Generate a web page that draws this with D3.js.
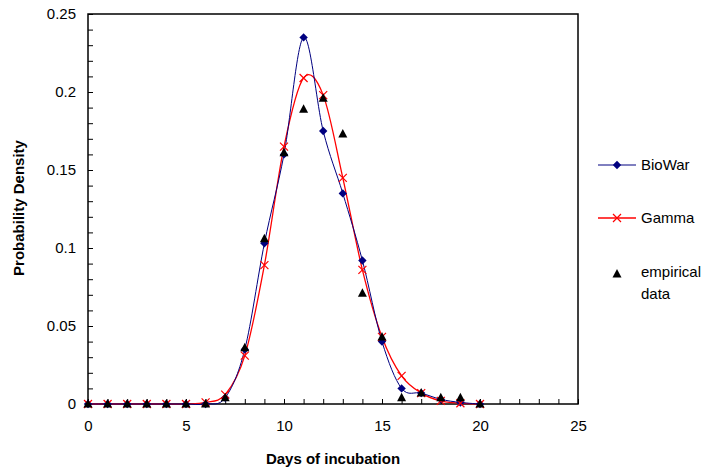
<!DOCTYPE html>
<html><head><meta charset="utf-8">
<script src="https://cdn.jsdelivr.net/npm/d3@7"></script>
<style>body{margin:0;background:#fff}svg{display:block}text{font-family:"Liberation Sans",Arial,sans-serif}</style>
</head><body><svg id="c" width="709" height="472"></svg>
<script>
const days = [0,1,2,3,4,5,6,7,8,9,10,11,12,13,14,15,16,17,18,19,20];
const biowar = [0,0,0,0,0,0,0,0.004,0.035,0.103,0.160,0.235,0.175,0.135,0.092,0.040,0.010,0.007,0.003,0.001,0];
const gamma = [0,0,0,0,0,0,0.001,0.006,0.031,0.089,0.165,0.209,0.198,0.145,0.086,0.043,0.018,0.007,0.002,0.0005,0];
const empirical = [0,0,0,0,0,0,0,0.004,0.036,0.106,0.161,0.189,0.196,0.173,0.071,0.043,0.004,0.007,0.004,0.004,0];
const xTicks = [0,5,10,15,20,25];
const yTicks = [0,0.05,0.1,0.15,0.2,0.25];
const legendLabels = ["BioWar","Gamma","empirical data"];

const svg = d3.select("#c");
const L=88,R=578,T=14,B=404;
const x = d3.scaleLinear().domain([0,25]).range([L,R]);
const y = d3.scaleLinear().domain([0,0.25]).range([B,T]);

const g = svg.append("g");
g.append("g").attr("transform",`translate(0,${B})`)
 .call(d3.axisBottom(x).tickValues(d3.range(0,26,1)).tickSize(-5).tickFormat(""))
 .call(a=>{a.select(".domain").remove();a.selectAll("line").attr("stroke","#000").attr("stroke-width",1);});
g.append("g").attr("transform",`translate(${L},0)`)
 .call(d3.axisLeft(y).tickValues(d3.range(0,0.2501,0.01)).tickSize(-5).tickFormat(""))
 .call(a=>{a.select(".domain").remove();a.selectAll("line").attr("stroke","#000").attr("stroke-width",1);});
g.append("g").attr("transform",`translate(0,${B})`)
 .call(d3.axisBottom(x).tickValues(xTicks).tickSize(0).tickPadding(16).tickFormat(d=>d))
 .call(a=>{a.select(".domain").remove();a.selectAll("text").attr("font-size",15).attr("fill","#000").style("font-family","Liberation Sans, Arial");});
g.append("g").attr("transform",`translate(${L},0)`)
 .call(d3.axisLeft(y).tickValues(yTicks).tickSize(0).tickPadding(12).tickFormat(d=>d===0?"0":String(+d.toFixed(2))))
 .call(a=>{a.select(".domain").remove();a.selectAll("text").attr("font-size",15).attr("fill","#000").style("font-family","Liberation Sans, Arial");});

svg.append("rect").attr("x",L).attr("y",T).attr("width",R-L).attr("height",B-T)
 .attr("fill","none").attr("stroke","#000").attr("stroke-width",1.5);

const line = d3.line().x((d,i)=>x(days[i])).y(d=>y(d)).curve(d3.curveCardinal.tension(0));
svg.append("path").datum(gamma).attr("d",line).attr("fill","none").attr("stroke","#ff0000").attr("stroke-width",1.3);
svg.append("path").datum(biowar).attr("d",line).attr("fill","none").attr("stroke","#000080").attr("stroke-width",1);

const diamond = "M0,-4.2L4.2,0L0,4.2L-4.2,0Z";
const tri = "M0,-5L4.5,3.5L-4.5,3.5Z";
const cross = "M-4,-4L4,4M-4,4L4,-4";

svg.append("g").selectAll("path").data(biowar).join("path")
 .attr("d",diamond).attr("transform",(d,i)=>`translate(${x(days[i])},${y(d)})`).attr("fill","#000080");
svg.append("g").selectAll("path").data(gamma).join("path")
 .attr("d",cross).attr("transform",(d,i)=>`translate(${x(days[i])},${y(d)})`).attr("stroke","#ff0000").attr("stroke-width",1.2).attr("fill","none");
svg.append("g").selectAll("path").data(empirical).join("path")
 .attr("d",tri).attr("transform",(d,i)=>`translate(${x(days[i])},${y(d)})`).attr("fill","#000");

svg.append("text").attr("x",333).attr("y",464).attr("text-anchor","middle").attr("font-size",15).attr("font-weight","bold").text("Days of incubation");
svg.append("text").attr("transform","translate(24,208) rotate(-90)").attr("text-anchor","middle").attr("font-size",15).attr("font-weight","bold").text("Probability Density");

const lg = svg.append("g");
const ly = [165,218,272];
lg.append("line").attr("x1",598).attr("x2",636).attr("y1",ly[0]).attr("y2",ly[0]).attr("stroke","#000080").attr("stroke-width",1);
lg.append("path").attr("d",diamond).attr("transform",`translate(617,${ly[0]})`).attr("fill","#000080");
lg.append("line").attr("x1",598).attr("x2",636).attr("y1",ly[1]).attr("y2",ly[1]).attr("stroke","#ff0000").attr("stroke-width",1.3);
lg.append("path").attr("d",cross).attr("transform",`translate(617,${ly[1]})`).attr("stroke","#ff0000").attr("stroke-width",1.2);
lg.append("path").attr("d",tri).attr("transform",`translate(617,${ly[2]+2})`).attr("fill","#000");
lg.append("text").attr("x",641).attr("y",ly[0]+5).attr("font-size",15).text(legendLabels[0]);
lg.append("text").attr("x",641).attr("y",ly[1]+5).attr("font-size",15).text(legendLabels[1]);
const et = lg.append("text").attr("x",641).attr("y",ly[2]+5).attr("font-size",15);
et.append("tspan").attr("x",641).text(legendLabels[2].split(" ")[0]);
et.append("tspan").attr("x",641).attr("dy",22).text(legendLabels[2].split(" ")[1]);
</script></body></html>
